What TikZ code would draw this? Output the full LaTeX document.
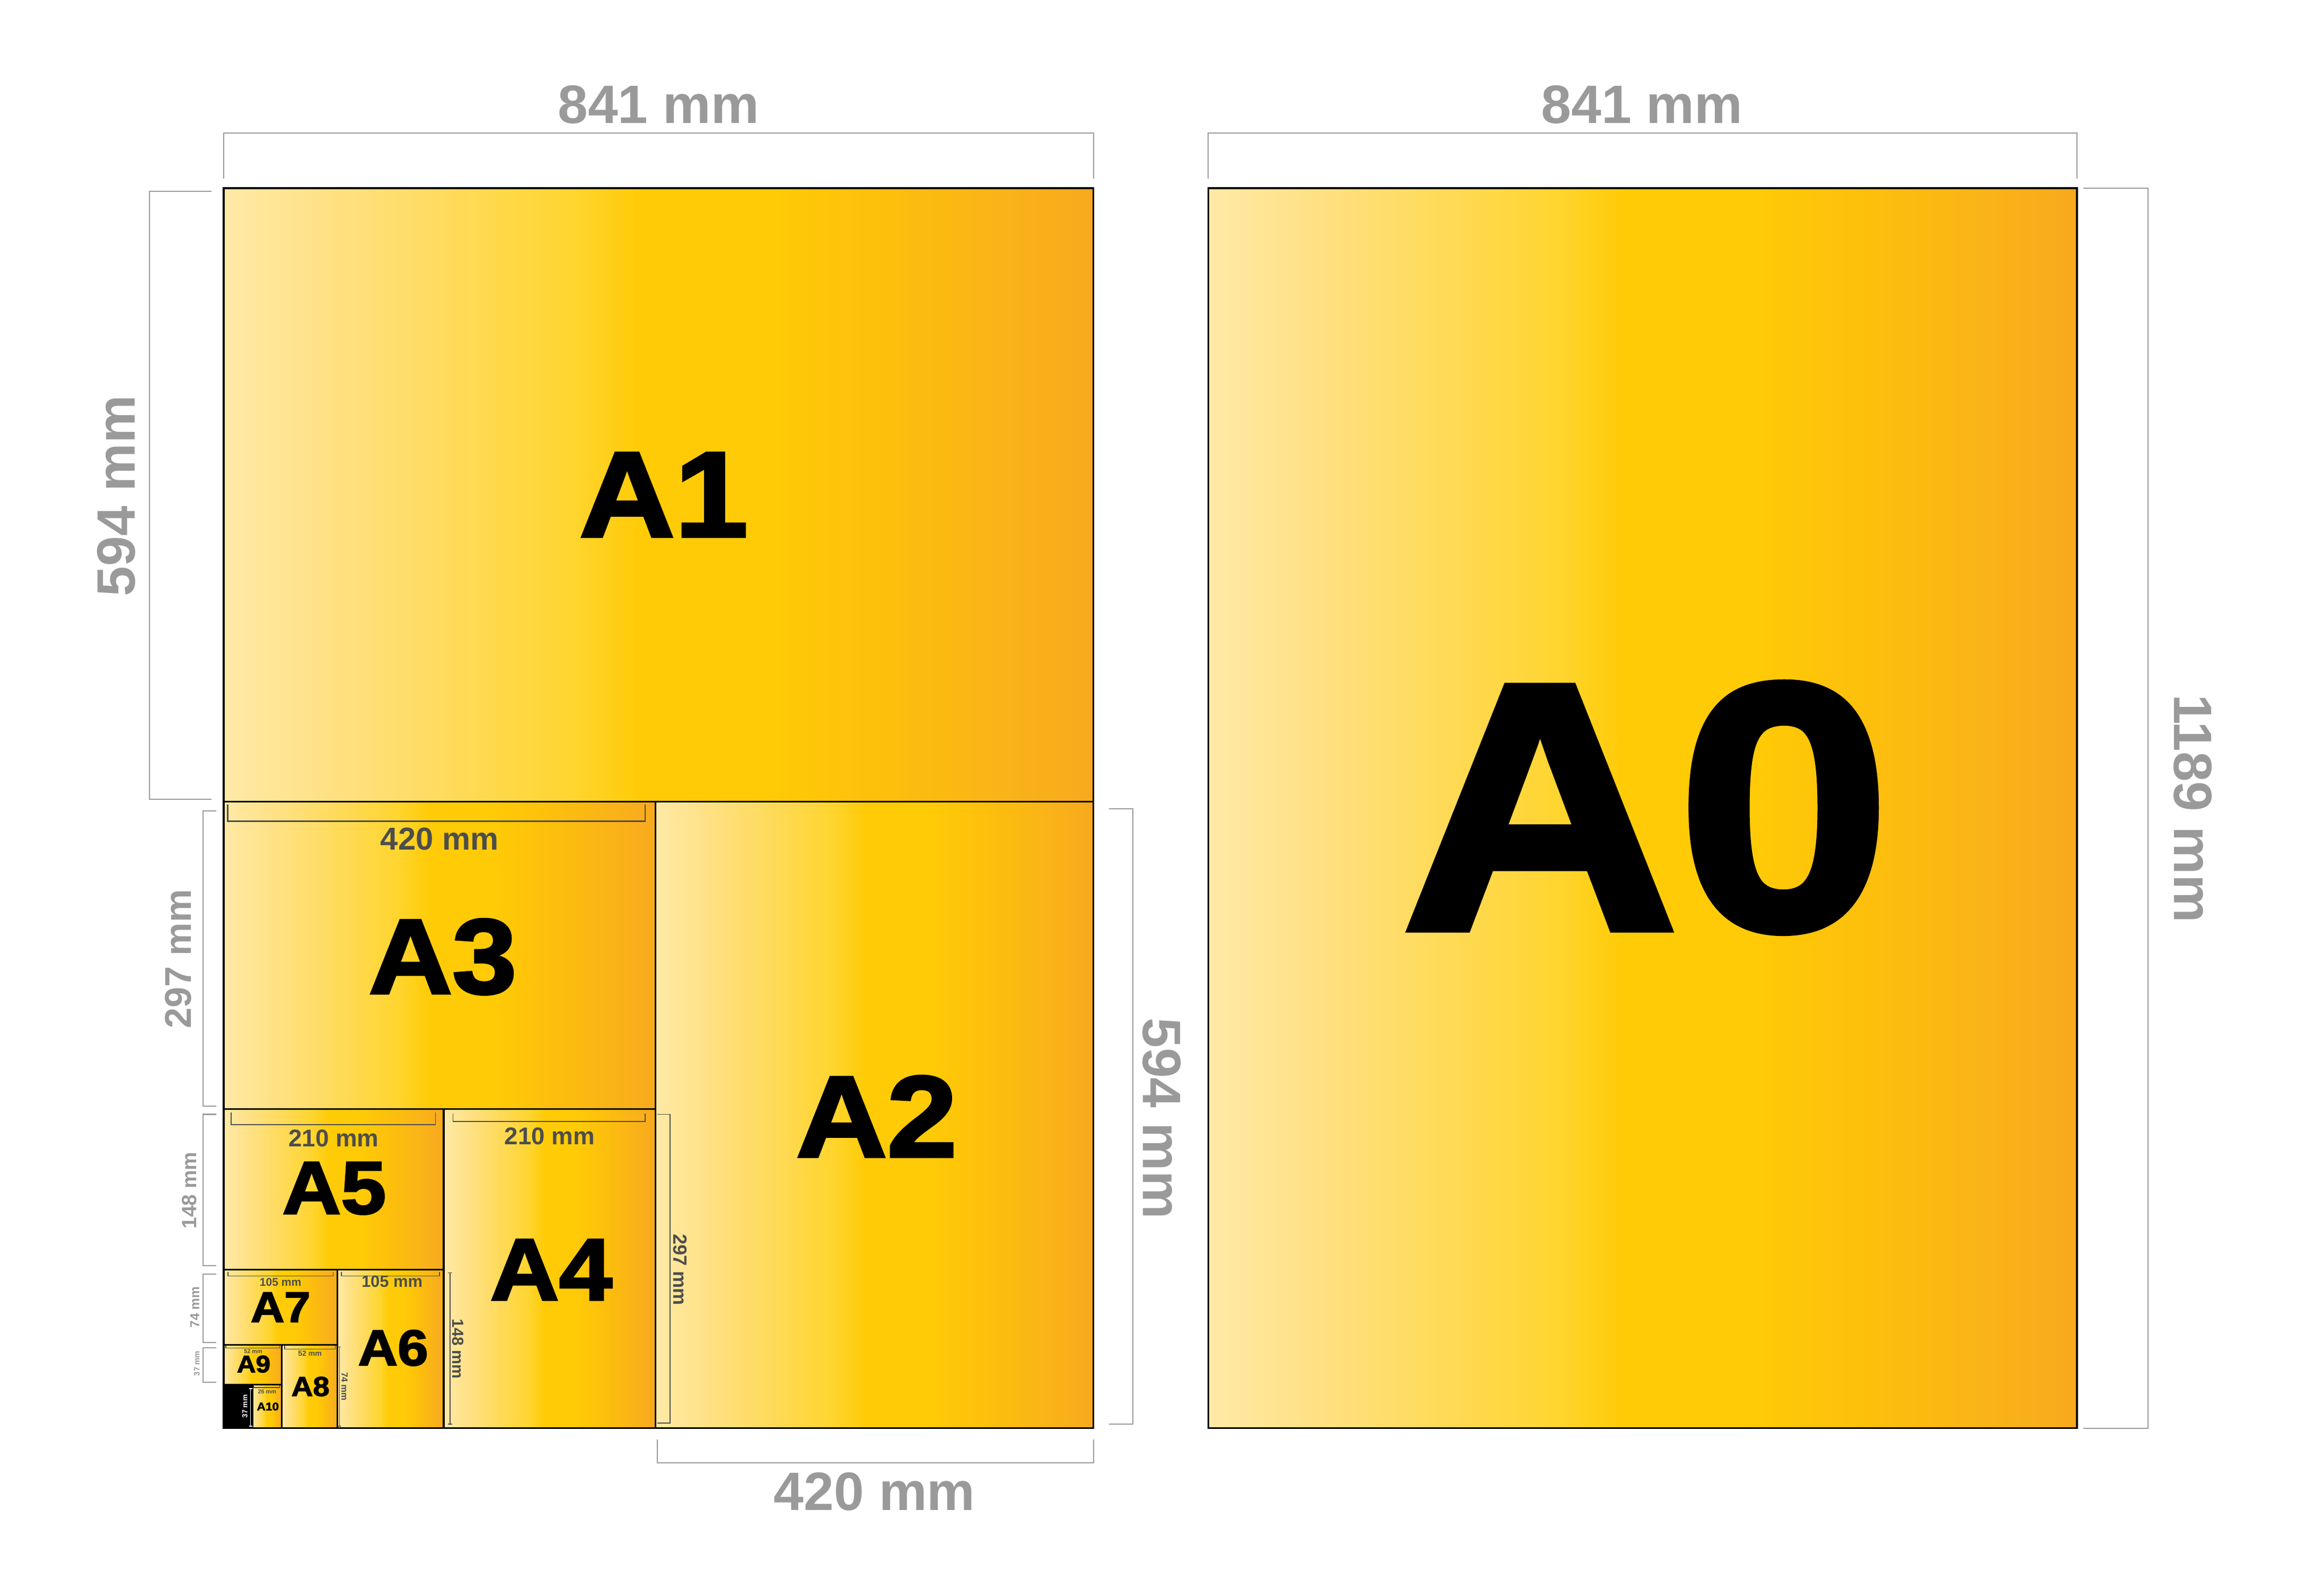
\documentclass[tikz,border=0pt]{standalone}
\usepackage{fontspec}
\setmainfont{Liberation Sans}
\newfontfamily\heavyfont{Liberation Sans}[FakeBold=2.5, FakeStretch=1.09]
\newcommand{\fsz}[1]{\fontsize{#1}{#1}\selectfont}

\definecolor{paperA}{HTML}{FFE9A6}
\definecolor{paperB}{HTML}{FFE28A}
\definecolor{paperC}{HTML}{FFDB5E}
\definecolor{paperD}{HTML}{FFD530}
\definecolor{paperE}{HTML}{FFCB06}
\definecolor{paperF}{HTML}{FDBF0C}
\definecolor{paperG}{HTML}{FAB318}
\definecolor{paperH}{HTML}{F8A91E}
\definecolor{dimgray}{HTML}{9A9A9A}
\definecolor{inkgray}{HTML}{4D4D4D}
\pgfdeclarehorizontalshading{papershade}{100bp}{color(0bp)=(paperA); color(25bp)=(paperA);
  color(30bp)=(paperB); color(37.5bp)=(paperC); color(45bp)=(paperD); color(49bp)=(paperE);
  color(56bp)=(paperE); color(63bp)=(paperF); color(70bp)=(paperG); color(75bp)=(paperH);
  color(100bp)=(paperH)}

\begin{document}
\begin{tikzpicture}[x=0.19487mm, y=0.1968mm,
    sheet/.style={draw=black, line width=0.9pt, shade, shading=papershade},
    outerdim/.style={draw=dimgray, line width=0.6pt},
    innerdim/.style={draw=inkgray, line width=0.5pt},
    outerlab/.style={text=dimgray, font=\bfseries\fsz{29}},
    sidelab/.style={text=dimgray, font=\bfseries},
    innerlab/.style={text=inkgray, font=\bfseries},
    sizelab/.style={text=black}]
    \fill[white] (-216.55,-155) rectangle (2033.2,1369.4);
    \useasboundingbox (-216.55,-155) rectangle (2033.2,1369.4);
    % sheets, halved again and again
    \foreach \xa/\ya/\xb/\yb in {0/601/842/1189, 418/0/842/601, 0/306/418/601, 213/0/418/306,
        0/152/213/306, 110/0/213/152, 0/80/110/152, 56/0/110/80, 0/42/56/80, 28/0/56/42,
        953/0/1794/1189}
        {\draw[sheet] (\xa,\ya) rectangle (\xb,\yb);}
    \filldraw[black, line width=0.9pt] (0,0) rectangle (28,42);
    % sheet names
    \foreach \n/\px/\py/\fs in {A0/1377/595/188, A1/426/895/65, A2/632/299/62, A3/212/452/57,
        A4/317/152/47, A5/107/230/40, A6/164/77/27, A7/55/116/23, A8/84/40/14.7, A9/29/61.5/12.9,
        A10/42.8/20.8/5.9}
        {\node[sizelab, font=\heavyfont\bfseries\fsz{\fs}] (lab\n) at (\px,\py) {\n};}

    % outer dimensions
    \draw[outerdim] (0,1198) -- (0,1242) -- (842,1242) -- (842,1198);
    \draw[outerdim] (953,1198) -- (953,1242) -- (1794,1242) -- (1794,1198);
    \draw[outerdim] (-12,1186) -- (-72,1186) -- (-72,603) -- (-12,603);
    \draw[outerdim] (1800,1189) -- (1863,1189) -- (1863,0) -- (1800,0);
    \draw[outerdim] (857,594) -- (880,594) -- (880,4) -- (857,4);
    \draw[outerdim] (420,-11) -- (420,-33) -- (842,-33) -- (842,-11);
    \node[outerlab] (wA1) at (421,1269) {841 mm};
    \node[outerlab] (wA0) at (1373,1269) {841 mm};
    \node[outerlab, rotate=90] (hA1) at (-104,894) {594 mm};
    \node[outerlab, rotate=-90] (hA0) at (1906,594) {1189 mm};
    \node[outerlab, rotate=-90] (hA2) at (908,297) {594 mm};
    \node[outerlab] (wA2) at (630,-61) {420 mm};

    % heights down the left side
    \draw[outerdim] (-7,592) -- (-20,592) -- (-20,309) -- (-7,309);
    \draw[outerdim] (-7,301) -- (-20,301) -- (-20,156) -- (-7,156);
    \draw[outerdim] (-7,148) -- (-20,148) -- (-20,82) -- (-7,82);
    \draw[outerdim] (-7,77) -- (-20,77) -- (-20,44) -- (-7,44);
    \node[sidelab, font=\bfseries\fsz{20}, rotate=90] (hA3) at (-44,450) {297 mm};
    \node[sidelab, font=\bfseries\fsz{11}, rotate=90] (hA5) at (-33,228) {148 mm};
    \node[sidelab, font=\bfseries\fsz{7}, rotate=90] (hA7) at (-28,116) {74 mm};
    \node[sidelab, font=\bfseries\fsz{4.2}, rotate=90] (hA9) at (-26,62) {37 mm};

    % dimensions inside the sheets
    \draw[innerdim, line width=0.8pt] (4,598) -- (4,582) -- (408,582) -- (408,598);
    \draw[innerdim] (7,303) -- (7,291) -- (205,291) -- (205,303);
    \draw[innerdim] (222,302) -- (222,294) -- (408,294) -- (408,302);
    \draw[innerdim] (4,150) -- (4,146) -- (106,146) -- (106,150);
    \draw[innerdim] (114,150) -- (114,146) -- (209,146) -- (209,150);
    \draw[innerdim, line width=0.4pt] (2,79) -- (2,77) -- (54,77) -- (54,79);
    \draw[innerdim, line width=0.4pt] (59,79) -- (59,76) -- (108,76) -- (108,79);
    \draw[innerdim, line width=0.4pt] (29,41) -- (29,39) -- (54,39) -- (54,41);
    \draw[innerdim] (420,301) -- (432,301) -- (432,5) -- (420,5);
    \draw[innerdim] (217,149) -- (221,149) (219,149) -- (219,4) (217,4) -- (221,4);
    \draw[innerdim, line width=0.4pt] (110.5,78) -- (113.5,78) (112,78) -- (112,2) (110.5,2) -- (113.5,2);
    \draw[white, line width=0.4pt] (24.5,38) -- (27.5,38) (26,38) -- (26,2) (24.5,2) -- (27.5,2);
    \node[innerlab, font=\bfseries\fsz{17}] (wA3) at (209,565) {420 mm};
    \node[innerlab, font=\bfseries\fsz{13}] (wA5) at (106.5,278) {210 mm};
    \node[innerlab, font=\bfseries\fsz{13}] (wA4) at (315.5,280) {210 mm};
    \node[innerlab, font=\bfseries\fsz{10.3}, rotate=-90] (hA4) at (442,152) {297 mm};
    \node[innerlab, font=\bfseries\fsz{8.6}, rotate=-90] (hA6) at (227,76) {148 mm};
    \node[innerlab, font=\bfseries\fsz{6}] (wA7) at (55,140) {105 mm};
    \node[innerlab, font=\bfseries\fsz{8.8}] (wA6) at (163,140.6) {105 mm};
    \node[innerlab, font=\bfseries\fsz{4.8}, rotate=-90] (hA8) at (117,40) {74 mm};
    \node[innerlab, font=\bfseries\fsz{3.1}] (wA9) at (28.5,73.7) {52 mm};
    \node[innerlab, font=\bfseries\fsz{4}] (wA8) at (83.5,71.6) {52 mm};
    \node[innerlab, font=\bfseries\fsz{3.1}] (wA10) at (42,35) {26 mm};
    \node[text=white, font=\bfseries\fsz{3.9}, rotate=90] (hA10) at (20.5,21) {37 mm};
\end{tikzpicture}
\end{document}
